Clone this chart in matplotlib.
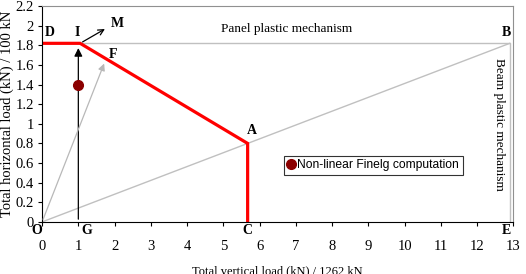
import matplotlib.pyplot as plt

# interaction diagram (normalised loads)
red_x = [0, 1.05, 5.67, 5.67]
red_y = [1.82, 1.82, 0.8, 0.0]
frame_x = [0, 12.9, 12.9]
frame_y = [1.82, 1.82, 0.0]
diag_x = [0, 12.9]
diag_y = [0, 1.82]
finelg_x = [1.0]
finelg_y = [1.4]

pt_names = ['D', 'I', 'M', 'F', 'A', 'B', 'O', 'G', 'C', 'E']
pt_x = [0.22, 0.98, 2.07, 1.96, 5.8, 12.8, -0.14, 1.24, 5.66, 12.8]
pt_y = [1.93, 1.93, 2.02, 1.71, 0.93, 1.93, -0.09, -0.09, -0.09, -0.09]

xticks = list(range(0, 14))
yticks = [0, 0.2, 0.4, 0.6, 0.8, 1, 1.2, 1.4, 1.6, 1.8, 2, 2.2]
ytick_labels = ['0', '0.2', '0.4', '0.6', '0.8', '1', '1.2', '1.4', '1.6', '1.8', '2', '2.2']

plt.rcParams['font.family'] = ['Liberation Serif', 'DejaVu Serif']

fig = plt.figure(figsize=(5.26, 2.74), dpi=100)
ax = fig.add_axes([0.08, 0.19, 0.896, 0.788])

ax.plot(diag_x, diag_y, color='#c0c0c0', lw=1)
ax.plot(frame_x, frame_y, color='#c0c0c0', lw=1)
ax.plot(red_x, red_y, color='red', lw=2.3, solid_joinstyle='miter')

# arrows
ax.annotate('', xy=(1.0, 1.8), xytext=(1.0, 0.0),
            arrowprops=dict(arrowstyle='-|>', color='black', lw=0.9, mutation_scale=12))
ax.annotate('', xy=(1.74, 1.64), xytext=(0.0, 0.0),
            arrowprops=dict(arrowstyle='-|>', color='#b8b8b8', lw=0.9, mutation_scale=10))
ax.annotate('', xy=(1.8, 1.98), xytext=(1.05, 1.82),
            arrowprops=dict(arrowstyle='->', color='black', lw=0.9, mutation_scale=10))

ax.plot(finelg_x, finelg_y, 'o', color='#8b0000', ms=7, ls='none',
        label='Non-linear Finelg computation', zorder=5)

for n, x, y in zip(pt_names, pt_x, pt_y):
    ax.text(x, y, n, ha='center', va='center', fontsize=10, fontweight='bold', clip_on=False)

ax.text(6.74, 1.965, 'Panel plastic mechanism', ha='center', va='center', fontsize=9.5)
ax.text(12.6, 0.99, 'Beam plastic mechanism', ha='center', va='center', fontsize=9.5,
        rotation=270)

ax.set_xlim(0, 13)
ax.set_ylim(0, 2.2)
ax.set_xticks(xticks)
ax.set_yticks(yticks)
ax.set_yticklabels(ytick_labels)
ax.tick_params(axis='x', direction='out', length=3, pad=10, labelsize=10.5)
ax.tick_params(axis='y', direction='out', length=3, pad=3, labelsize=10.5)
for s in ['top', 'right']:
    ax.spines[s].set_color('#909090')

ax.set_ylabel('Total horizontal load (kN) / 100 kN', fontsize=10.5, labelpad=1)
ax.set_xlabel('Total vertical load (kN) / 1262 kN', fontsize=9, labelpad=9)

leg = ax.legend(loc='upper left', bbox_to_anchor=(0.513, 0.306), frameon=True, fancybox=False,
                handlelength=0.6, handletextpad=0.2, borderpad=0.3, borderaxespad=0,
                prop={'family': 'Liberation Sans', 'size': 8.7})
leg.get_frame().set_edgecolor('black')
leg.get_frame().set_linewidth(0.8)

plt.savefig('out.png', dpi=100)
